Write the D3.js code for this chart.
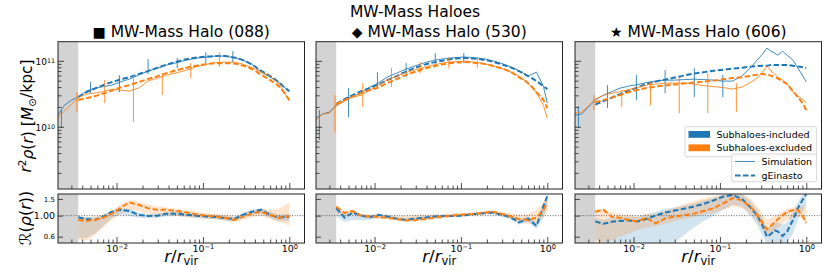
<!DOCTYPE html>
<html><head><meta charset="utf-8">
<script src="https://cdn.jsdelivr.net/npm/d3@7"></script>
<style>
body{margin:0;background:#fff}
svg{display:block;font-family:"DejaVu Sans",sans-serif}
</style>
</head><body>
<svg id="c" width="830" height="277"></svg>
<script>
// ---------------- DATA ----------------
// radial grid r/r_vir
const rGrid = [0.0021,0.0025,0.003,0.0036,0.0045,0.0056,0.007,0.0088,0.011,0.014,0.018,0.023,0.03,0.038,0.05,0.065,0.085,0.11,0.14,0.18,0.23,0.29,0.37,0.47,0.6,0.75,0.9,1.0];
const rGrid606 = [0.0021,0.0025,0.003,0.0036,0.0045,0.0056,0.007,0.0088,0.011,0.014,0.018,0.023,0.03,0.038,0.05,0.065,0.085,0.11,0.14,0.18,0.23,0.27,0.31,0.35,0.39,0.43,0.47,0.53,0.6,0.7,0.8,0.9,1.0];
// fits and ratios start at r = 0.0036 (rGrid index 3)
const FIT_START = 3;
// r^2 rho(r) in units of 1e10 Msun/kpc
const UNIT = 1e10;

// Halo 088
const sim088In = [1.50,2.13,2.54,2.82,3.47,3.86,4.06,4.28,4.76,5.28,6.07,6.98,7.75,8.61,9.39,10.25,11.0,11.4,11.8,11.8,11.2,10.25,8.91,6.74,5.66,4.76,3.86,3.47];
const sim088Ex = [1.40,1.73,2.21,2.77,3.13,3.24,3.41,3.73,3.60,3.47,3.86,4.93,5.47,6.07,6.62,7.23,8.17,8.91,9.39,9.56,9.56,8.91,7.88,6.86,5.87,4.59,3.13,2.45];
const fit088In = [2.82,3.36,3.80,4.28,4.76,5.19,5.66,6.29,6.98,7.88,8.76,9.72,10.61,11.2,11.6,11.8,11.8,11.2,10.25,8.76,7.10,5.87,4.76,3.86,3.47];
const fit088Ex = [2.54,2.72,2.92,3.19,3.54,3.93,4.28,4.76,5.28,5.87,6.51,7.23,7.88,8.45,8.91,9.23,9.23,9.07,8.45,7.49,6.18,5.10,4.14,3.13,2.54];
const ratio088In = [0.96,0.92,0.90,0.97,1.10,1.15,1.12,1.02,0.99,1.00,1.05,1.05,1.02,1.00,0.98,0.97,0.94,0.92,1.02,1.10,1.15,1.02,0.95,0.97,0.97];
const ratio088Ex = [0.90,0.88,0.90,0.95,1.05,1.20,1.38,1.30,1.20,1.15,1.15,1.12,1.08,1.03,1.00,0.98,0.95,0.90,0.97,1.05,1.10,1.02,0.95,0.97,0.99];
const band088InLo = [0.58,0.58,0.65,0.78,0.95,1.02,1.00,0.95,0.94,0.95,0.99,1.00,0.97,0.95,0.93,0.92,0.89,0.87,0.95,1.03,1.05,0.95,0.88,0.88,0.88];
const band088InHi = [0.98,0.97,0.97,1.02,1.12,1.20,1.18,1.08,1.04,1.05,1.10,1.10,1.07,1.05,1.03,1.02,0.99,0.97,1.08,1.15,1.20,1.10,1.02,1.05,1.05];
const band088ExLo = [0.55,0.55,0.62,0.75,0.90,1.05,1.15,1.12,1.05,1.02,1.02,1.00,0.97,0.94,0.92,0.91,0.88,0.85,0.90,0.97,1.00,0.92,0.85,0.82,0.78];
const band088ExHi = [0.97,0.97,0.98,1.02,1.12,1.30,1.45,1.42,1.32,1.25,1.22,1.18,1.14,1.10,1.06,1.05,1.03,0.98,1.05,1.12,1.18,1.15,1.18,1.30,1.40];

// Halo 530
const sim530In = [1.355,1.56,1.67,2.13,2.54,2.92,3.24,4.00,4.59,5.66,6.51,7.49,8.45,9.39,10.25,10.8,11.2,11.4,11.2,10.8,10.07,9.23,8.17,7.10,5.87,6.74,4.14,2.29];
const sim530Ex = [1.26,1.56,1.61,2.06,2.45,2.82,3.02,3.60,4.28,5.10,5.87,6.62,7.36,8.03,8.76,9.39,9.72,9.90,9.56,9.07,8.45,7.75,6.86,5.87,4.59,3.24,2.13,1.355];
const fit530In = [2.21,2.63,3.02,3.47,3.86,4.36,5.10,5.87,6.86,7.88,8.76,9.56,10.25,10.8,11.0,10.8,10.42,9.72,8.91,8.03,6.98,5.87,4.93,4.14,3.73];
const fit530Ex = [2.21,2.54,2.87,3.24,3.60,3.93,4.59,5.28,6.07,6.86,7.62,8.31,8.91,9.39,9.56,9.39,9.07,8.45,7.75,6.86,5.66,4.59,3.36,2.54,1.92];
const ratio530In = [1.20,0.95,1.08,1.00,0.96,1.02,0.98,0.93,0.90,0.93,0.95,0.98,0.99,0.99,1.01,1.04,1.06,1.08,1.03,0.97,0.85,0.93,0.78,1.25,1.60];
const ratio530Ex = [1.24,1.07,1.12,1.00,0.98,0.97,0.95,0.92,0.89,0.90,0.92,0.95,0.98,1.01,1.03,1.04,1.07,1.10,1.05,0.99,0.92,0.90,0.95,1.15,1.36];
const band530InLo = [1.00,0.85,0.90,0.90,0.90,0.95,0.94,0.90,0.88,0.90,0.92,0.95,0.96,0.96,0.98,1.00,1.02,1.03,0.98,0.92,0.80,0.85,0.72,0.95,1.20];
const band530InHi = [1.25,1.05,1.12,1.04,1.00,1.05,1.01,0.97,0.95,0.97,0.99,1.01,1.02,1.02,1.04,1.07,1.09,1.12,1.07,1.02,0.92,0.98,0.85,1.35,1.65];
const band530ExLo = [1.05,0.98,1.02,0.96,0.94,0.93,0.92,0.89,0.86,0.87,0.89,0.92,0.95,0.98,1.00,1.01,1.03,1.05,1.00,0.94,0.86,0.82,0.84,0.95,1.10];
const band530ExHi = [1.30,1.12,1.16,1.04,1.03,1.03,1.02,1.00,1.00,1.02,1.03,1.04,1.05,1.06,1.07,1.08,1.10,1.14,1.10,1.06,1.02,1.05,1.15,1.40,1.62];

// Halo 606
const sim606In = [1.50,1.56,1.99,2.54,3.02,3.41,3.86,4.14,4.36,4.68,4.93,5.10,5.10,5.19,5.28,5.19,5.10,4.93,4.93,5.87,8.03,10.25,12.6,15.6,14.0,13.1,12.2,14.0,12.2,10.25,7.75,6.07,4.76];
const sim606Ex = [1.61,1.67,2.06,2.63,3.02,3.24,3.41,3.66,3.93,4.28,4.44,4.59,4.59,4.59,4.44,4.21,4.06,3.93,3.73,4.00,4.76,5.47,6.74,8.31,6.98,6.29,5.66,5.10,4.44,3.36,2.92,2.63,2.29];
const fit606In = [2.17,2.45,2.77,3.13,3.54,3.93,4.44,4.84,5.19,5.57,5.97,6.40,6.74,7.10,7.36,7.62,7.88,8.17,8.31,8.45,8.45,8.61,8.61,8.61,8.61,8.61,8.45,8.17,8.03,7.75];
const fit606Ex = [2.37,2.54,2.77,3.02,3.36,3.60,3.86,4.06,4.21,4.36,4.52,4.68,4.84,5.01,5.28,5.47,5.66,5.97,6.18,6.29,6.18,5.97,5.66,5.37,4.93,4.44,3.47,2.82,2.29,1.79];
const ratio606In = [0.87,0.82,0.86,0.88,0.89,0.87,0.92,1.00,1.08,1.13,1.18,1.25,1.33,1.45,1.59,1.65,1.50,1.20,1.00,0.80,0.60,0.64,0.70,0.68,0.61,0.68,0.90,1.20,1.45,1.68];
const ratio606Ex = [1.10,1.15,0.97,0.95,0.90,0.87,0.95,0.83,0.93,0.98,1.01,1.05,1.12,1.20,1.35,1.53,1.45,1.22,1.02,0.85,0.72,0.78,0.85,0.92,1.00,1.10,1.14,1.15,1.00,0.84];
const band606InLo = [0.55,0.52,0.50,0.48,0.45,0.40,0.38,0.40,0.45,0.52,0.62,0.75,0.88,1.00,1.15,1.30,1.25,0.98,0.80,0.62,0.50,0.50,0.52,0.52,0.50,0.52,0.65,0.90,1.10,1.30];
const band606InHi = [0.95,0.90,0.95,0.97,0.98,0.97,1.02,1.10,1.18,1.22,1.28,1.35,1.45,1.55,1.66,1.69,1.69,1.40,1.15,0.95,0.72,0.78,0.85,0.85,0.80,0.85,1.10,1.40,1.65,1.69];
const band606ExLo = [0.52,0.52,0.55,0.60,0.65,0.70,0.75,0.78,0.82,0.88,0.92,0.97,1.02,1.08,1.15,1.25,1.20,1.02,0.85,0.72,0.60,0.62,0.68,0.75,0.82,0.90,0.95,0.98,0.92,0.80];
const band606ExHi = [1.15,1.18,1.08,1.04,1.02,1.00,1.05,1.05,1.12,1.22,1.32,1.42,1.52,1.60,1.66,1.69,1.69,1.50,1.25,1.05,0.90,0.95,1.00,1.05,1.10,1.18,1.22,1.25,1.25,1.25];

// error bars on simulation profiles (1e10 Msun/kpc)
const rErrIn = [0.0023,0.0050,0.0108,0.0232,0.0505,0.108,0.222];
const rErrEx = [0.00348,0.0073,0.0157,0.0338,0.0724,0.155];
const err088InLo = [0.956,3.24,3.36,6.29,7.75,9.23,9.56];
const err088InHi = [1.79,4.76,6.07,10.61,11.0,13.55,14.0];
const err088ExLo = [1.67,2.29,1.18,3.02,5.47,8.03];
const err088ExHi = [3.36,5.10,6.07,6.51,9.23,13.55];
const err530InLo = [0.63,1.40,3.86,5.66,8.03,9.23,null];
const err530InHi = [1.79,3.86,6.74,9.23,13.1,13.1,null];
const err530ExLo = [0.83,1.99,4.00,6.51,7.75,7.75];
const err530ExHi = [3.02,4.59,7.75,9.56,11.4,11.4];
const err606InLo = [0.99,1.92,2.54,3.24,2.82,2.82,null];
const err606InHi = [2.06,4.28,6.07,7.23,7.75,6.07,null];
const err606ExLo = [1.79,1.99,2.13,1.61,1.61,1.67];
const err606ExHi = [3.02,3.60,4.76,5.66,6.51,4.59];

// axes / ticks
const xDomain = [0.0021, 1.5];
const resolutionLimit = 0.0036;
const yDomain = [1.14e9, 1.95e11];
const ratioDomain = [0.515, 1.69];
const xMajorTicks = [0.01, 0.1, 1];
const xMajorExp = ["\u22122", "\u22121", "0"];
const yMajorTicks = [1e10, 1e11];
const yMajorExp = ["10", "11"];
const ratioTicks = [0.6, 1.0, 1.5];
const ratioTickLabels = ["0.6", "1.00", "1.5"];
const panelSymbols = ["\u25A0", "\u25C6", "\u2605"];
const panelNames = ["MW-Mass Halo (088)", "MW-Mass Halo (530)", "MW-Mass Halo (606)"];
const legendPatches = ["Subhaloes-included", "Subhaloes-excluded"];
const legendLines = ["Simulation", "gEinasto"];

// ---------------- DRAW ----------------
const BLUE = "#1f77b4", ORANGE = "#ff7f0e";
const svg = d3.select("#c");
const W = 246.5;
const panelLeft = [58, 316, 575];
const topY = [41.7, 189], botY = [194, 243];

const panels = [
  {r: rGrid, simIn: sim088In, simEx: sim088Ex, fitIn: fit088In, fitEx: fit088Ex, rIn: ratio088In, rEx: ratio088Ex,
   bIL: band088InLo, bIH: band088InHi, bEL: band088ExLo, bEH: band088ExHi,
   eIL: err088InLo, eIH: err088InHi, eEL: err088ExLo, eEH: err088ExHi},
  {r: rGrid, simIn: sim530In, simEx: sim530Ex, fitIn: fit530In, fitEx: fit530Ex, rIn: ratio530In, rEx: ratio530Ex,
   bIL: band530InLo, bIH: band530InHi, bEL: band530ExLo, bEH: band530ExHi,
   eIL: err530InLo, eIH: err530InHi, eEL: err530ExLo, eEH: err530ExHi},
  {r: rGrid606, simIn: sim606In, simEx: sim606Ex, fitIn: fit606In, fitEx: fit606Ex, rIn: ratio606In, rEx: ratio606Ex,
   bIL: band606InLo, bIH: band606InHi, bEL: band606ExLo, bEH: band606ExHi,
   eIL: err606InLo, eIH: err606InHi, eEL: err606ExLo, eEH: err606ExHi}
];

function minorTicks(lo, hi, e0, e1) {
  const out = [];
  for (let e = e0; e <= e1; e++) for (let m = 2; m <= 9; m++) {
    const v = +(m * Math.pow(10, e)).toPrecision(6);
    if (v >= lo && v <= hi) out.push(v);
  }
  return out;
}
const xMinor = minorTicks(xDomain[0], xDomain[1], -3, 0);
const yMinor = minorTicks(yDomain[0], yDomain[1], 9, 11);

const defs = svg.append("defs");
const tickColor = "#222";

panels.forEach((p, i) => {
  const L = panelLeft[i];
  const x = d3.scaleLog().domain(xDomain).range([L, L + W]);
  const y = d3.scaleLog().domain(yDomain).range([topY[1], topY[0]]);
  const yr = d3.scaleLog().domain(ratioDomain).range([botY[1], botY[0]]);
  const rFit = p.r.slice(FIT_START);

  defs.append("clipPath").attr("id", "ct" + i).append("rect")
    .attr("x", L).attr("y", topY[0]).attr("width", W).attr("height", topY[1] - topY[0]);
  defs.append("clipPath").attr("id", "cb" + i).append("rect")
    .attr("x", L).attr("y", botY[0]).attr("width", W).attr("height", botY[1] - botY[0]);

  // ---- top panel ----
  const gt = svg.append("g").attr("clip-path", `url(#ct${i})`);
  gt.append("rect").attr("x", x(xDomain[0])).attr("y", topY[0])
    .attr("width", x(resolutionLimit) - x(xDomain[0])).attr("height", topY[1] - topY[0]).attr("fill", "#d3d3d3");

  const simLine = d3.line().x((d, k) => x(p.r[k])).y(d => y(d * UNIT));
  const fitLine = d3.line().curve(d3.curveMonotoneX).x((d, k) => x(rFit[k])).y(d => y(d * UNIT));

  [[p.simIn, p.fitIn, p.eIL, p.eIH, rErrIn, BLUE], [p.simEx, p.fitEx, p.eEL, p.eEH, rErrEx, ORANGE]].forEach(([s, f, lo, hi, re, col]) => {
    gt.append("path").attr("d", simLine(s)).attr("fill", "none").attr("stroke", col).attr("stroke-width", 1).attr("opacity", 0.85);
    re.forEach((rv, k) => {
      if (lo[k] == null) return;
      gt.append("line").attr("x1", x(rv)).attr("x2", x(rv)).attr("y1", y(lo[k] * UNIT)).attr("y2", y(hi[k] * UNIT))
        .attr("stroke", col).attr("stroke-width", 1).attr("opacity", 0.85);
    });
    gt.append("path").attr("d", fitLine(f)).attr("fill", "none").attr("stroke", col).attr("stroke-width", 2)
      .attr("stroke-dasharray", "5.5,2.5");
  });

  // ---- ratio panel ----
  const gb = svg.append("g").attr("clip-path", `url(#cb${i})`);
  gb.append("rect").attr("x", x(xDomain[0])).attr("y", botY[0])
    .attr("width", x(resolutionLimit) - x(xDomain[0])).attr("height", botY[1] - botY[0]).attr("fill", "#d3d3d3");
  const band = (lo, hi) => d3.area().x((d, k) => x(rFit[k])).y0((d, k) => yr(lo[k])).y1((d, k) => yr(hi[k]))(lo);
  gb.append("path").attr("d", band(p.bIL, p.bIH)).attr("fill", BLUE).attr("opacity", 0.2);
  gb.append("path").attr("d", band(p.bEL, p.bEH)).attr("fill", ORANGE).attr("opacity", 0.2);
  gb.append("line").attr("x1", L).attr("x2", L + W).attr("y1", yr(1)).attr("y2", yr(1))
    .attr("stroke", "#555").attr("stroke-width", 0.9).attr("stroke-dasharray", "1,1.6");
  const rLine = d3.line().x((d, k) => x(rFit[k])).y(d => yr(d));
  gb.append("path").attr("d", rLine(p.rIn)).attr("fill", "none").attr("stroke", BLUE).attr("stroke-width", 2).attr("stroke-dasharray", "5.5,2.5");
  gb.append("path").attr("d", rLine(p.rEx)).attr("fill", "none").attr("stroke", ORANGE).attr("stroke-width", 2).attr("stroke-dasharray", "5.5,2.5");

  // ---- axes ----
  [topY[1], botY[1]].forEach((yy, j) => {
    const gMin = svg.append("g").attr("transform", `translate(0,${yy})`).attr("color", tickColor)
      .call(d3.axisBottom(x).tickValues(xMinor).tickSize(-3.5).tickFormat(""));
    gMin.select(".domain").remove();
    gMin.selectAll("line").attr("stroke-width", 0.8);
    const gMaj = svg.append("g").attr("transform", `translate(0,${yy})`).attr("color", tickColor)
      .call(d3.axisBottom(x).tickValues(xMajorTicks).tickSize(-6).tickPadding(2).tickFormat(""));
    gMaj.select(".domain").remove();
    gMaj.selectAll("line").attr("stroke-width", 0.8);
    if (j === 1) {
      gMaj.selectAll(".tick text").each(function(d, k) {
        const t = d3.select(this).attr("font-family", "DejaVu Sans").attr("font-size", 9.5).attr("fill", "#000");
        t.append("tspan").text("10");
        t.append("tspan").attr("dy", "-0.42em").attr("font-size", 6.6).text(xMajorExp[k]);
      });
    }
  });
  // top y axis
  const gyMin = svg.append("g").attr("transform", `translate(${L},0)`).attr("color", tickColor)
    .call(d3.axisLeft(y).tickValues(yMinor).tickSize(-3.5).tickFormat(""));
  gyMin.select(".domain").remove();
  gyMin.selectAll("line").attr("stroke-width", 0.8);
  const gyMaj = svg.append("g").attr("transform", `translate(${L},0)`).attr("color", tickColor)
    .call(d3.axisLeft(y).tickValues(yMajorTicks).tickSize(-6).tickPadding(3).tickFormat(""));
  gyMaj.select(".domain").remove();
  gyMaj.selectAll("line").attr("stroke-width", 0.8);
  if (i === 0) {
    gyMaj.selectAll(".tick text").each(function(d, k) {
      const t = d3.select(this).attr("font-family", "DejaVu Sans").attr("font-size", 9).attr("fill", "#000").attr("dy", "0.45em");
      t.append("tspan").text("10");
      t.append("tspan").attr("dy", "-0.42em").attr("font-size", 6.3).text(yMajorExp[k]);
    });
  }
  // ratio y axis
  const gry = svg.append("g").attr("transform", `translate(${L},0)`).attr("color", tickColor)
    .call(d3.axisLeft(yr).tickValues(ratioTicks).tickSize(-5).tickPadding(3).tickFormat(""));
  gry.select(".domain").remove();
  gry.selectAll("line").attr("stroke-width", 0.8);
  if (i === 0) {
    gry.selectAll(".tick text").each(function(d, k) {
      d3.select(this).attr("font-family", "DejaVu Sans").attr("fill", "#000")
        .attr("font-size", d === 1 ? 9.5 : 7).text(ratioTickLabels[k]);
    });
  }

  // spines
  svg.append("rect").attr("x", L).attr("y", topY[0]).attr("width", W).attr("height", topY[1] - topY[0])
    .attr("fill", "none").attr("stroke", "#222").attr("stroke-width", 1);
  svg.append("rect").attr("x", L).attr("y", botY[0]).attr("width", W).attr("height", botY[1] - botY[0])
    .attr("fill", "none").attr("stroke", "#222").attr("stroke-width", 1);

  // subplot title
  const st = svg.append("text").attr("x", L + W / 2).attr("y", 37).attr("text-anchor", "middle")
    .attr("font-size", 15.5).attr("fill", "#000");
  st.append("tspan").attr("font-size", 14).text(panelSymbols[i]);
  st.append("tspan").text(" " + panelNames[i]);

  // x label
  const xl = svg.append("text").attr("x", L + W / 2).attr("y", 262).attr("text-anchor", "middle")
    .attr("font-size", 16.5).attr("fill", "#000");
  xl.append("tspan").attr("font-style", "italic").text("r");
  xl.append("tspan").text("/");
  xl.append("tspan").attr("font-style", "italic").text("r");
  xl.append("tspan").attr("font-size", 11.5).attr("dy", "0.25em").text("vir");
});

// super title
svg.append("text").attr("x", 415).attr("y", 17).attr("text-anchor", "middle").attr("font-size", 15.5).text("MW-Mass Haloes");

// y labels
const yl = svg.append("text").attr("transform", "translate(31,116) rotate(-90)").attr("text-anchor", "middle").attr("font-size", 15.5);
yl.append("tspan").attr("font-style", "italic").text("r");
yl.append("tspan").attr("font-size", 10.5).attr("dy", "-0.45em").text("2");
yl.append("tspan").attr("font-style", "italic").attr("dy", "0.45em").text("\u03C1");
yl.append("tspan").text("(");
yl.append("tspan").attr("font-style", "italic").text("r");
yl.append("tspan").text(") [");
yl.append("tspan").attr("font-style", "italic").text("M");
yl.append("tspan").attr("font-size", 10.5).attr("dy", "0.3em").text("\u2299");
yl.append("tspan").attr("dy", "-0.3em").text("/kpc]");

const yl2 = svg.append("text").attr("transform", "translate(31,218) rotate(-90)").attr("text-anchor", "middle").attr("font-size", 16);
yl2.append("tspan").attr("font-style", "italic").text("\u211B");
yl2.append("tspan").text("(");
yl2.append("tspan").attr("font-style", "italic").text("\u03C1");
yl2.append("tspan").text("(");
yl2.append("tspan").attr("font-style", "italic").text("r");
yl2.append("tspan").text("))");

// legends (panel 3)
const lg = svg.append("g").attr("font-size", 9.5);
lg.append("rect").attr("x", 685).attr("y", 126.7).attr("width", 131.7).attr("height", 30).attr("rx", 2)
  .attr("fill", "#fff").attr("fill-opacity", 0.8).attr("stroke", "#ccc").attr("stroke-width", 0.8);
[BLUE, ORANGE].forEach((c, k) => {
  lg.append("rect").attr("x", 688.5).attr("y", 131 + k * 13.4).attr("width", 21.5).attr("height", 6.8).attr("fill", c);
  lg.append("text").attr("x", 716.5).attr("y", 138 + k * 13.4).text(legendPatches[k]);
});
lg.append("rect").attr("x", 731.7).attr("y", 154).attr("width", 85).attr("height", 27.7).attr("rx", 2)
  .attr("fill", "#fff").attr("fill-opacity", 0.8).attr("stroke", "#ccc").attr("stroke-width", 0.8);
lg.append("line").attr("x1", 735).attr("x2", 755).attr("y1", 161.5).attr("y2", 161.5).attr("stroke", BLUE).attr("stroke-width", 1).attr("opacity", 0.85);
lg.append("line").attr("x1", 735).attr("x2", 755).attr("y1", 175.5).attr("y2", 175.5).attr("stroke", BLUE).attr("stroke-width", 2).attr("stroke-dasharray", "5.5,2.5");
lg.append("text").attr("x", 761.5).attr("y", 165).text(legendLines[0]);
lg.append("text").attr("x", 761.5).attr("y", 179).text(legendLines[1]);
</script>
</body></html>
